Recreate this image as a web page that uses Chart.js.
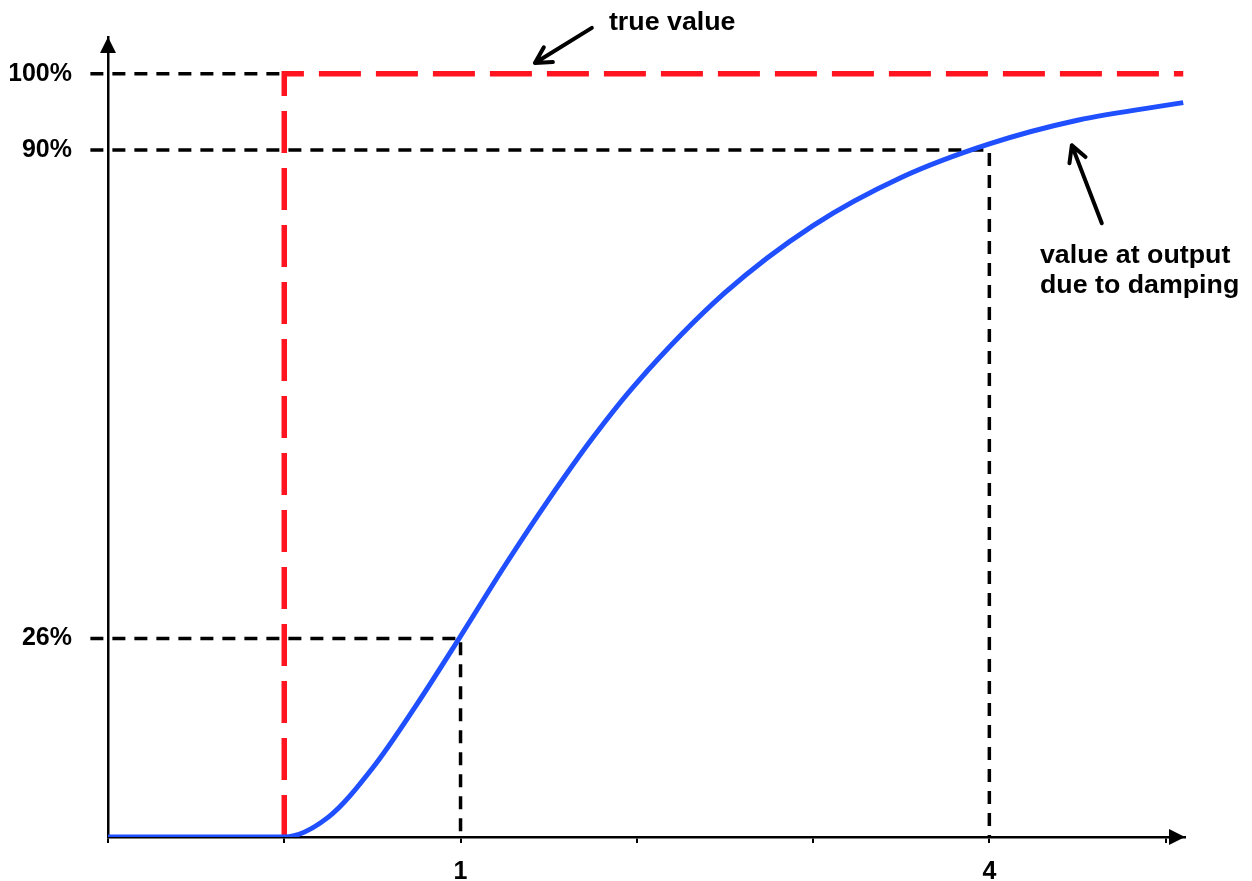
<!DOCTYPE html>
<html>
<head>
<meta charset="utf-8">
<script src="https://cdn.jsdelivr.net/npm/chart.js@4.4.1/dist/chart.umd.min.js"></script>
<style>
  html, body { margin: 0; padding: 0; background: #fff; }
  #wrap { position: relative; width: 1252px; height: 881px; }
</style>
</head>
<body>
<div id="wrap"><canvas id="chart"></canvas></div>
<script>
// step response: time (time constants) vs output (% of true value)
const times  = [-1, 0, 0.25, 0.5, 0.75, 1, 1.25, 1.5, 1.75, 2, 2.5, 3, 3.5, 4, 4.5, 5.1];
const output = [0, 0, 2.6, 9.0, 17.3, 26.3, 35.5, 44.2, 52.3, 59.5, 71.3, 80.1, 86.4, 90.8, 93.9, 96.2];

const stepAt = 0;
const trueValue = 100;
const markTimes = [1, 4];
const markLevels = [26, 90];

const timeTicks  = [-1, 0, 1, 2, 3, 4, 5];
const timeLabels = ['', '', '1', '', '', '4', ''];
const levelTicks = [26, 90, 100];

const X_MIN = -1, X_MAX = 5.11, Y_MAX = 104.8, GUIDE_FROM = -1.1;
const FONT = '"Liberation Sans", Arial, Helvetica, sans-serif';

// callouts, positioned in data units
const notes = [
  { lines: ['true value'], at: [1.842, 105.7], tail: [1.745, 106.0], head: [1.422, 101.4] },
  { lines: ['value at output', 'due to damping'], at: [4.287, 75.2], tail: [4.638, 80.4], head: [4.468, 90.6] }
];

const guide = pts => ({
  data: pts, borderColor: '#000', borderWidth: 3.5, borderDash: [13, 9],
  pointRadius: 0, clip: false, tension: 0, fill: false
});

const guides = [
  guide([{ x: GUIDE_FROM, y: trueValue }, { x: stepAt, y: trueValue }]),
  ...markTimes.map((t, i) => guide([
    { x: GUIDE_FROM, y: markLevels[i] }, { x: t, y: markLevels[i] }, { x: t, y: 0 }
  ]))
];

const overlay = {
  id: 'overlay',
  afterDraw(chart) {
    const { ctx, chartArea: a, scales: { x, y } } = chart;
    ctx.save();
    ctx.fillStyle = '#000';
    ctx.strokeStyle = '#000';

    // axis arrowheads
    ctx.beginPath();
    ctx.moveTo(a.left, a.top);
    ctx.lineTo(a.left - 8, a.top + 16);
    ctx.lineTo(a.left + 8, a.top + 16);
    ctx.closePath();
    ctx.fill();
    ctx.beginPath();
    ctx.moveTo(a.right, a.bottom);
    ctx.lineTo(a.right - 16, a.bottom - 8);
    ctx.lineTo(a.right - 16, a.bottom + 8);
    ctx.closePath();
    ctx.fill();

    // callouts
    ctx.font = 'bold 26px ' + FONT;
    ctx.textAlign = 'left';
    ctx.textBaseline = 'alphabetic';
    notes.forEach(n => {
      const tx = x.getPixelForValue(n.at[0]);
      const ty = y.getPixelForValue(n.at[1]);
      n.lines.forEach((line, i) => {
        ctx.save();
        ctx.translate(tx, ty + i * 30);
        ctx.scale(1.03, 1);
        ctx.fillText(line, 0, 0);
        ctx.restore();
      });
      const x0 = x.getPixelForValue(n.tail[0]), y0 = y.getPixelForValue(n.tail[1]);
      const x1 = x.getPixelForValue(n.head[0]), y1 = y.getPixelForValue(n.head[1]);
      const ang = Math.atan2(y1 - y0, x1 - x0);
      ctx.lineWidth = 4;
      ctx.lineCap = 'round';
      ctx.lineJoin = 'round';
      ctx.beginPath();
      ctx.moveTo(x0, y0);
      ctx.lineTo(x1, y1);
      ctx.moveTo(x1 - 18 * Math.cos(ang - 0.5), y1 - 18 * Math.sin(ang - 0.5));
      ctx.lineTo(x1, y1);
      ctx.lineTo(x1 - 18 * Math.cos(ang + 0.5), y1 - 18 * Math.sin(ang + 0.5));
      ctx.stroke();
    });
    ctx.restore();
  }
};

new Chart(document.getElementById('chart'), {
  type: 'line',
  data: {
    datasets: [
      {
        label: 'value at output',
        data: times.map((t, i) => ({ x: t, y: output[i] })),
        borderColor: '#1f4fff',
        borderWidth: 5,
        pointRadius: 0,
        cubicInterpolationMode: 'monotone',
        fill: false
      },
      {
        label: 'true value',
        data: [{ x: stepAt, y: 0 }, { x: stepAt, y: trueValue }, { x: 5.1, y: trueValue }],
        borderColor: '#ff1420',
        borderWidth: 5.5,
        borderDash: [42, 15],
        pointRadius: 0,
        tension: 0,
        fill: false
      },
      ...guides
    ]
  },
  options: {
    responsive: true,
    maintainAspectRatio: false,
    animation: false,
    events: [],
    layout: { padding: { left: 10, right: 67, top: 37, bottom: 0 } },
    plugins: { legend: { display: false }, tooltip: { enabled: false } },
    scales: {
      x: {
        type: 'linear',
        min: X_MIN,
        max: X_MAX,
        afterBuildTicks: s => { s.ticks = timeTicks.map(v => ({ value: v })); },
        afterFit: s => { s.height = 44; },
        ticks: {
          callback: (v, i) => timeLabels[i] ?? '',
          color: '#000',
          font: { family: FONT, size: 25, weight: 'bold' },
          padding: 14,
          maxRotation: 0,
          autoSkip: false
        },
        grid: { drawOnChartArea: false, drawTicks: true, tickLength: 6, color: '#000', lineWidth: 2 },
        border: { color: '#000', width: 2.5 }
      },
      y: {
        type: 'linear',
        min: 0,
        max: Y_MAX,
        afterBuildTicks: s => { s.ticks = levelTicks.map(v => ({ value: v })); },
        afterFit: s => { s.width = 98; },
        ticks: {
          callback: v => v + '%',
          color: '#000',
          font: { family: FONT, size: 25, weight: 'bold' },
          padding: 0
        },
        grid: { display: false, drawTicks: true, tickLength: 36 },
        border: { color: '#000', width: 2.5 }
      }
    }
  },
  plugins: [overlay]
});
</script>
</body>
</html>
